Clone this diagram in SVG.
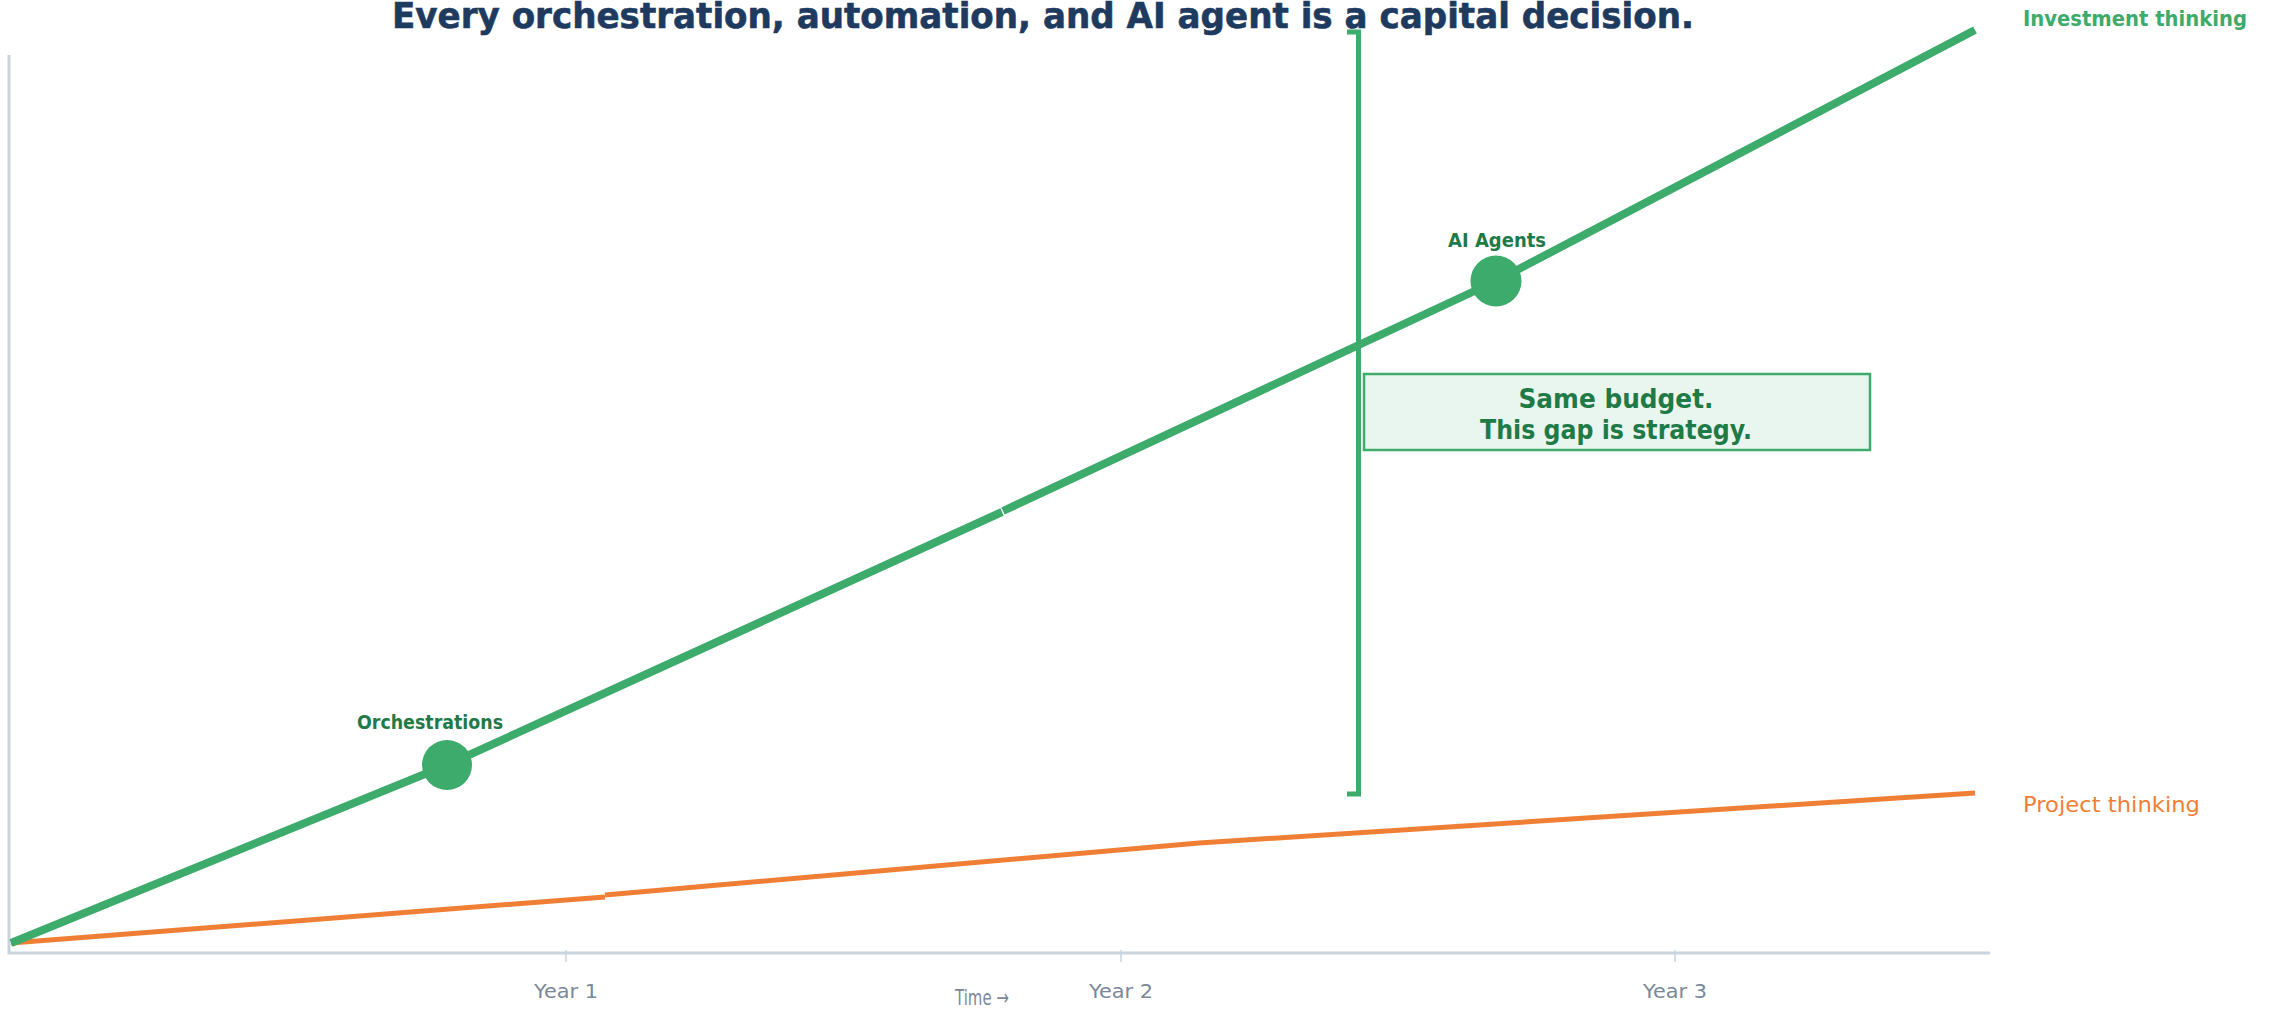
<svg xmlns="http://www.w3.org/2000/svg" width="2274" height="1010" viewBox="0 0 2274 1010">
  <style>
    .axis { stroke: #c9d3de; stroke-width: 3; fill: none; }
    .tick { stroke: #c9d3de; stroke-width: 1.5; }
    .green { stroke: #3dab6b; stroke-width: 8; fill: none; stroke-linecap: butt; stroke-linejoin: round; }
    .orange { stroke: #f07f35; stroke-width: 5; fill: none; stroke-linecap: butt; stroke-linejoin: round; }
    .dot { fill: #3dab6b; }
    .title { font-family: "DejaVu Sans", "Liberation Sans", sans-serif; font-weight: bold; font-size: 35px; fill: #1e3a5f; stroke: #1e3a5f; stroke-width: 0.6; }
    .ylab { font-family: "DejaVu Sans", "Liberation Sans", sans-serif; font-size: 20px; fill: #7a8899; text-anchor: middle; }
    .mlab { font-family: "DejaVu Sans", "Liberation Sans", sans-serif; font-weight: bold; font-size: 19px; fill: #1f7a47; text-anchor: middle; }
    .boxtxt { font-family: "DejaVu Sans", "Liberation Sans", sans-serif; font-weight: bold; font-size: 26px; fill: #1f7a47; text-anchor: middle; }
  </style>

  <g id="title">
    <text class="title" x="392" y="28" textLength="1302" lengthAdjust="spacingAndGlyphs">Every orchestration, automation, and AI agent is a capital decision.</text>
  </g>

  <g id="axes">
    <path class="axis" d="M9,55 V953 H1990"/>
    <line class="tick" x1="566" y1="950" x2="566" y2="962"/>
    <line class="tick" x1="1121" y1="950" x2="1121" y2="962"/>
    <line class="tick" x1="1675" y1="950" x2="1675" y2="962"/>
    <text class="ylab" x="566" y="998" textLength="64" lengthAdjust="spacingAndGlyphs">Year 1</text>
    <text class="ylab" x="1121" y="998" textLength="64" lengthAdjust="spacingAndGlyphs">Year 2</text>
    <text class="ylab" x="1675" y="998" textLength="64" lengthAdjust="spacingAndGlyphs">Year 3</text>
    <text class="ylab" x="982" y="1005" style="font-size:22px" textLength="54" lengthAdjust="spacingAndGlyphs">Time →</text>
  </g>

  <g id="connectors">
    <polyline id="project-line-1" class="orange" points="11,943 605,897"/>
    <polyline id="project-line-2" class="orange" points="605,895 1199,843"/>
    <polyline id="project-line-3" class="orange" points="1199,843 1975,793"/>
    <polyline id="investment-line-1" class="green" points="11,943 447,765 1002,512"/>
    <polyline id="investment-line-2" class="green" points="1003,511 1496,281 1975,30"/>
  </g>

  <g id="bracket">
    <path d="M1347,32 H1358.5 V794 H1347" stroke="#3dab6b" stroke-width="5" fill="none"/>
  </g>

  <g id="node-orchestrations">
    <circle class="dot" cx="447" cy="765" r="25"/>
    <text class="mlab" x="430" y="729" textLength="146" lengthAdjust="spacingAndGlyphs">Orchestrations</text>
  </g>

  <g id="node-ai-agents">
    <circle class="dot" cx="1496" cy="281" r="25.5"/>
    <text class="mlab" x="1497" y="247" textLength="98" lengthAdjust="spacingAndGlyphs">AI Agents</text>
  </g>

  <g id="node-gap-callout">
    <rect x="1364" y="374" width="506" height="76" fill="#e9f6ef" stroke="#3dab6b" stroke-width="2.5"/>
    <text class="boxtxt" x="1616" y="408" textLength="195" lengthAdjust="spacingAndGlyphs">Same budget.</text>
    <text class="boxtxt" x="1616" y="439" textLength="272" lengthAdjust="spacingAndGlyphs">This gap is strategy.</text>
  </g>

  <g id="series-labels">
    <text x="2023" y="26" font-family="DejaVu Sans, Liberation Sans, sans-serif" font-weight="bold" font-size="22" fill="#3dab6b" textLength="224" lengthAdjust="spacingAndGlyphs">Investment thinking</text>
    <text x="2023" y="812" font-family="DejaVu Sans, Liberation Sans, sans-serif" font-size="22" fill="#f07f35" textLength="177" lengthAdjust="spacingAndGlyphs">Project thinking</text>
  </g>
</svg>
